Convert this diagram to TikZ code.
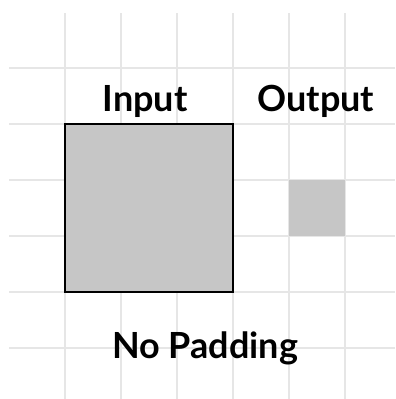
\documentclass[tikz,border=0pt]{standalone}
\usepackage{fontspec}
\setmainfont{Lato}
\usetikzlibrary{positioning}
\definecolor{gridgray}{HTML}{E6E6E6}
\definecolor{cellgray}{HTML}{C6C6C6}

\begin{document}
\begin{tikzpicture}[x=0.5pt,y=-0.5pt,
  gridline/.style={draw=gridgray,line width=0.75pt},
  cell/.style={fill=cellgray,inner sep=0pt,outer sep=0pt},
  lab/.style={font=\bfseries\fontsize{18}{21}\selectfont,inner sep=0pt,anchor=base}]
\useasboundingbox (0,0) rectangle (395,399);
% grid
\foreach \gx in {65,121,...,345} \draw[gridline] (\gx,13) -- (\gx,399);
\foreach \gy in {68,124,...,348} \draw[gridline] (9,\gy) -- (395,\gy);
% feature maps
\node (in) [cell,draw=black,line width=1pt,minimum size=84pt] at (149,208) {};
\node (out) [cell,minimum size=28pt] at (317,208) {};
% labels
\node (inlab) [lab] at (145,112) {Input};
\node (outlab) [lab] at (316,112) {Output};
\node (title) [lab] at (205,358) {No Padding};
\end{tikzpicture}
\end{document}
